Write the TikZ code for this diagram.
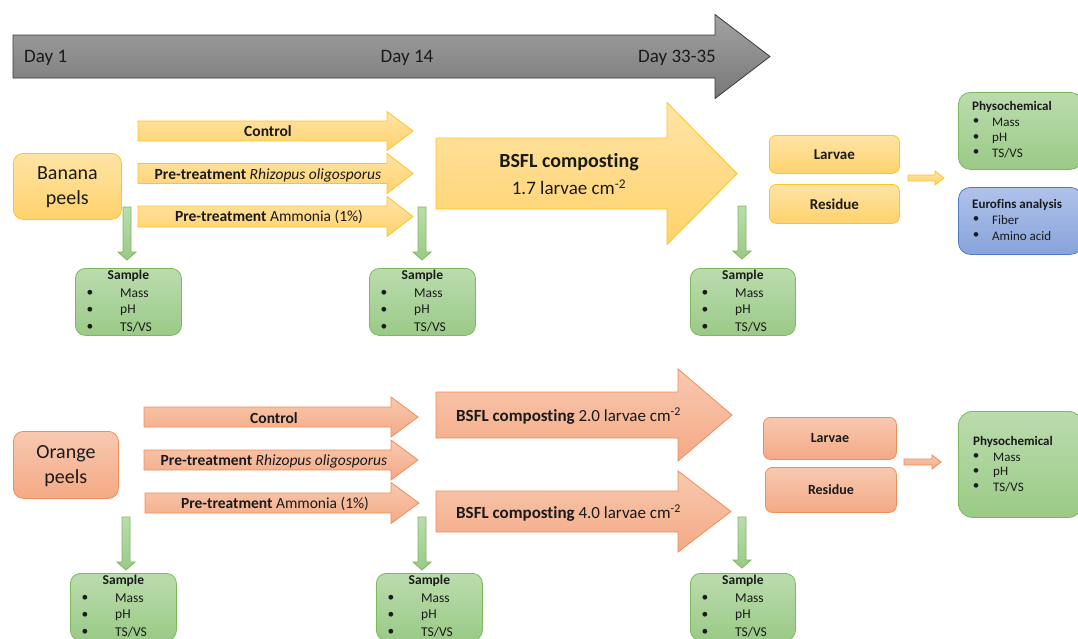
\documentclass[tikz,border=0pt]{standalone}
\usepackage{fontspec}
\setmainfont{Carlito}[Ligatures={NoCommon,NoRare,NoDiscretionary}]
\usetikzlibrary{calc}
\definecolor{ylwT}{HTML}{FFE4A6}
\definecolor{ylwD}{HTML}{FFD26C}
\definecolor{ylwB}{HTML}{FFC22A}
\definecolor{orgT}{HTML}{F8C9B0}
\definecolor{orgD}{HTML}{F4A985}
\definecolor{orgB}{HTML}{F08E58}
\definecolor{grnT}{HTML}{BBDCAE}
\definecolor{grnD}{HTML}{9ACA86}
\definecolor{grnB}{HTML}{7CB95B}
\definecolor{bluT}{HTML}{B0C2EA}
\definecolor{bluD}{HTML}{87A3DB}
\definecolor{bluB}{HTML}{4E7BC8}
\definecolor{gryT}{HTML}{A2A2A2}
\definecolor{gryD}{HTML}{787878}
\definecolor{gryB}{HTML}{3A3A3A}
\definecolor{txt}{HTML}{1A1A1A}
\tikzset{
  ylw/.style={draw=ylwB, top color=ylwT, bottom color=ylwD, line width=0.8pt},
  org/.style={draw=orgB, top color=orgT, bottom color=orgD, line width=0.8pt},
  grn/.style={draw=grnB, top color=grnT, bottom color=grnD, line width=0.8pt},
  blu/.style={draw=bluB, top color=bluT, bottom color=bluD, line width=0.8pt},
  gry/.style={draw=gryB, top color=gryT, bottom color=gryD, line width=0.8pt},
  box/.style={anchor=north west, inner sep=0pt},
  lbl/.style={text=txt, inner sep=0pt, font=\fontsize{15.5}{18}\selectfont},
  day/.style={text=txt, inner sep=0pt, font=\fontsize{19}{22}\selectfont},
  smp/.style={text=txt, inner sep=0pt, font=\fontsize{13.5}{16}\selectfont},
  phy/.style={text=txt, inner sep=0pt, font=\fontsize{13}{15}\selectfont},
}
% style, name, left x, head x, tip x, centre y, body half, head half
\newcommand\harrow[8]{%
  \path[#1] (#3,#6-#7) -- (#4,#6-#7) -- (#4,#6-#8) -- (#5,#6) -- (#4,#6+#8) -- (#4,#6+#7) -- (#3,#6+#7) -- cycle;
  \coordinate (#2) at ({(#3+#4)/2},#6);}
% style, name, x, top y, tip y
\newcommand\varrow[5]{%
  \path[#1] (#3-4,#4) -- (#3+4,#4) -- (#3+4,#5-8) -- (#3+9,#5-8) -- (#3,#5) -- (#3-9,#5-8) -- (#3-4,#5-8) -- cycle;
  \coordinate (#2) at (#3,#5);}
% name, x, y, w, h
\newcommand\samplebox[5]{%
  \node[grn, box, rounded corners=10pt, minimum width=#4pt, minimum height=#5pt] (#1) at (#2,#3) {};
  \node[smp, font=\fontsize{13.5}{16}\selectfont\bfseries] (#1t) at ($(#1.north)+(0,7.5)$) {Sample};
  \foreach \r/\w [count=\i] in {25/Mass,42/pH,59/TS\slash VS}{
    \node[smp] (#1b\i) at ($(#1.north west)+(15,\r)$) {\textbullet};
    \node[smp, anchor=west] (#1i\i) at ($(#1.north west)+(45,\r)$) {\w};}}
\begin{document}
\begin{tikzpicture}[x=1pt,y=-1pt]
\useasboundingbox (0,0) rectangle (1078,638);
\clip (0,0) rectangle (1078,638);
% timeline
\harrow{gry}{tl}{13}{715}{770}{56.5}{21.5}{42}
\node[day, anchor=west] (d1) at (24,58) {Day 1};
\node[day] (d14) at (407,58) {Day 14};
\node[day] (d33) at (677,58) {Day 33-35};

% ===== Banana =====
\node[ylw, box, rounded corners=10pt, minimum width=108pt, minimum height=66pt] (ban) at (13,153) {};
\node[text=txt, align=center, font=\fontsize{20}{25}\selectfont] (bant) at ($(ban)+(0,1)$) {Banana\\peels};
\harrow{ylw}{bc}{138}{387}{413}{131}{10}{19.5}
\harrow{ylw}{br}{138}{387}{413}{173.5}{10}{20}
\harrow{ylw}{ba}{138}{387}{413}{216.5}{10.5}{20}
\node[lbl] (bct) at (268,131) {\textbf{Control}};
\node[lbl] (brt) at (268,175) {\textbf{Pre-treatment} \textit{Rhizopus oligosporus}};
\node[lbl] (bat) at (269,217) {\textbf{Pre-treatment} Ammonia (1\%)};
\varrow{grn}{gb1}{127}{207}{260}
\varrow{grn}{gb2}{422}{207}{260}
\varrow{grn}{gb3}{742}{206}{259}
\samplebox{sb1}{75}{268}{106}{67}
\samplebox{sb2}{369}{268}{106}{67}
\samplebox{sb3}{690}{268}{105}{67}
\harrow{ylw}{bsfl}{436}{667}{737}{173.5}{35.5}{71}
\node[text=txt, font=\fontsize{20}{24}\selectfont\bfseries] (bsflt) at (569,162) {BSFL composting};
\node[text=txt, font=\fontsize{19}{22}\selectfont] (bsfld) at (569,187) {1.7 larvae cm\textsuperscript{-2}};
\node[ylw, box, rounded corners=7pt, minimum width=130pt, minimum height=38pt] (blar) at (769,135) {};
\node[lbl, font=\fontsize{15}{18}\selectfont\bfseries] at (blar) {Larvae};
\node[ylw, box, rounded corners=7pt, minimum width=130pt, minimum height=39pt] (bres) at (769,184) {};
\node[lbl, font=\fontsize{15}{18}\selectfont\bfseries] at (bres) {Residue};
\harrow{ylw}{bsm}{908}{935}{944}{178}{3}{7}
\node[grn, box, rounded corners=12pt, minimum width=124pt, minimum height=77pt] (bphy) at (958,92) {};
\node[phy, anchor=west, font=\fontsize{13}{15}\selectfont\bfseries] (bphyt) at (972,107) {Physochemical};
\foreach \yy/\w [count=\i] in {122/Mass,138/pH,153/TS\slash VS}{
  \node[phy] (bphyb\i) at (976,\yy) {\textbullet};
  \node[phy, anchor=west] (bphyi\i) at (992,\yy) {\w};}
\node[blu, box, rounded corners=12pt, minimum width=124pt, minimum height=67pt] (beur) at (958,187) {};
\node[phy, anchor=west, font=\fontsize{13}{15}\selectfont\bfseries] (beurt) at (972,205) {Eurofins analysis};
\foreach \yy/\w [count=\i] in {220/Fiber,236/Amino acid}{
  \node[phy] (beurb\i) at (976,\yy) {\textbullet};
  \node[phy, anchor=west] (beuri\i) at (992,\yy) {\w};}

% ===== Orange =====
\node[org, box, rounded corners=10pt, minimum width=105pt, minimum height=67pt] (ora) at (13,431) {};
\node[text=txt, align=center, font=\fontsize{20}{25}\selectfont] (orat) at ($(ora)+(0,1)$) {Orange\\peels};
\harrow{org}{oc}{144}{391}{418}{417}{10}{20}
\harrow{org}{or}{144}{391}{418}{460}{10}{20}
\harrow{org}{oa}{145}{391}{419}{503}{10}{20.5}
\node[lbl] (oct) at (274,418) {\textbf{Control}};
\node[lbl] (ort) at (274,461) {\textbf{Pre-treatment} \textit{Rhizopus oligosporus}};
\node[lbl] (oat) at (275,504) {\textbf{Pre-treatment} Ammonia (1\%)};
\varrow{grn}{go1}{126}{517}{570}
\varrow{grn}{go2}{422}{517}{570}
\varrow{grn}{go3}{742}{517}{568}
\samplebox{so1}{70}{573}{106}{67}
\samplebox{so2}{376}{573}{106}{67}
\samplebox{so3}{690}{573}{105}{67}
\harrow{org}{o20}{436}{678}{732}{415}{23}{46}
\harrow{org}{o40}{436}{678}{731}{511.5}{20.5}{40.5}
\node[text=txt, anchor=west, inner sep=0pt, font=\fontsize{17}{20}\selectfont] (o20t) at (456,416) {\textbf{BSFL composting} 2.0 larvae cm\textsuperscript{-2}};
\node[text=txt, anchor=west, inner sep=0pt, font=\fontsize{17}{20}\selectfont] (o40t) at (456,513) {\textbf{BSFL composting} 4.0 larvae cm\textsuperscript{-2}};
\node[org, box, rounded corners=7pt, minimum width=133pt, minimum height=42pt] (olar) at (763,417) {};
\node[lbl, font=\fontsize{14}{17}\selectfont\bfseries] at (olar) {Larvae};
\node[org, box, rounded corners=7pt, minimum width=131pt, minimum height=45pt] (ores) at (765,467) {};
\node[lbl, font=\fontsize{14}{17}\selectfont\bfseries] at (ores) {Residue};
\harrow{org}{osm}{904}{932}{941}{462}{3}{7}
\node[grn, box, rounded corners=14pt, minimum width=124pt, minimum height=106pt] (ophy) at (958,411) {};
\node[phy, anchor=west, font=\fontsize{13}{15}\selectfont\bfseries] (ophyt) at (973,442) {Physochemical};
\foreach \yy/\w [count=\i] in {457/Mass,472/pH,487/TS\slash VS}{
  \node[phy] (ophyb\i) at (976,\yy) {\textbullet};
  \node[phy, anchor=west] (ophyi\i) at (993,\yy) {\w};}
\end{tikzpicture}
\end{document}
